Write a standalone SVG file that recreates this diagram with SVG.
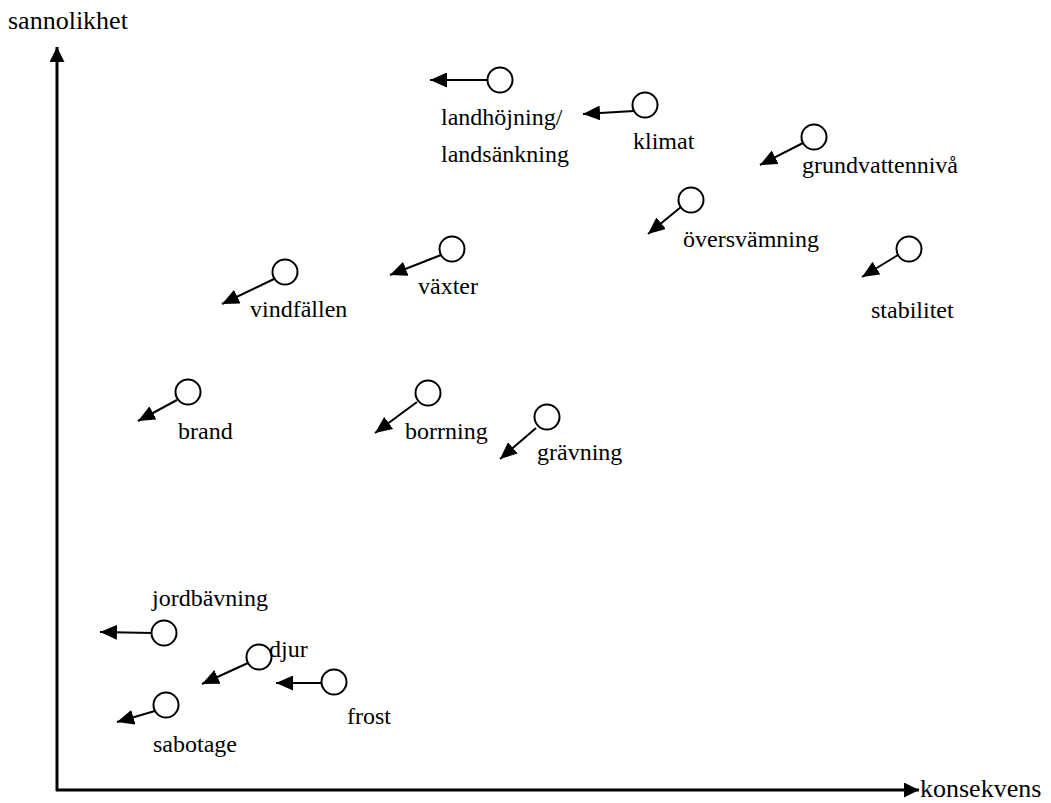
<svg xmlns="http://www.w3.org/2000/svg" width="1051" height="803" viewBox="0 0 1051 803">
<style>
text{font-family:"Liberation Serif","Times New Roman",Tinos,"DejaVu Serif",serif;font-size:24px;fill:#000}
.ttl{font-size:26px}
.c{fill:#fff;stroke:#000;stroke-width:2}
.a{stroke:#000;stroke-width:2;fill:none;marker-end:url(#ah)}
.ax{stroke:#000;stroke-width:3;fill:none;marker-end:url(#axh)}
</style>
<defs>
<marker id="ah" markerUnits="userSpaceOnUse" viewBox="0 0 17 15" refX="17" refY="7.5" markerWidth="17" markerHeight="15" orient="auto"><path d="M0,0 L17,7.5 L0,15 Z" fill="#000"/></marker>
<marker id="axh" markerUnits="userSpaceOnUse" viewBox="0 0 15 15" refX="15" refY="7.5" markerWidth="15" markerHeight="15" orient="auto"><path d="M0,0 L15,7.5 L0,15 Z" fill="#000"/></marker>
</defs>
<rect width="1051" height="803" fill="#fff"/>
<g id="axes">
<path class="ax" d="M57,791 L57,47"/>
<path class="ax" d="M56,790 L919,790"/>
<text class="ttl" x="8" y="29">sannolikhet</text>
<text class="ttl" x="920" y="797">konsekvens</text>
</g>
<g id="connectors">
<path class="a" d="M488,80 L430,80"/>
<path class="a" d="M634,111 L583,114"/>
<path class="a" d="M803,143 L760,165"/>
<path class="a" d="M681,207 L648,234"/>
<path class="a" d="M898,255 L862,277"/>
<path class="a" d="M441,255 L390,275"/>
<path class="a" d="M274,279 L222,304"/>
<path class="a" d="M177,400 L138,421"/>
<path class="a" d="M417,402 L375,433"/>
<path class="a" d="M536,428 L500,459"/>
<path class="a" d="M152,633 L100,632"/>
<path class="a" d="M248,663 L202,684"/>
<path class="a" d="M322,683 L276,683"/>
<path class="a" d="M155,711 L117,722"/>
</g>
<g id="landhojning"><circle class="c" cx="500" cy="80" r="12.5"/><text x="441" y="125">landhöjning/</text><text x="441" y="162">landsänkning</text></g>
<g id="klimat"><circle class="c" cx="645" cy="105" r="12.5"/><text x="633" y="149">klimat</text></g>
<g id="grundvattenniva"><circle class="c" cx="814" cy="137" r="12.5"/><text x="802" y="173">grundvattennivå</text></g>
<g id="oversvamning"><circle class="c" cx="691" cy="200" r="12.5"/><text x="683" y="247">översvämning</text></g>
<g id="stabilitet"><circle class="c" cx="909" cy="249" r="12.5"/><text x="871" y="318">stabilitet</text></g>
<g id="vaxter"><circle class="c" cx="452" cy="249" r="12.5"/><text x="418" y="294">växter</text></g>
<g id="vindfallen"><circle class="c" cx="285" cy="272" r="12.5"/><text x="250" y="317">vindfällen</text></g>
<g id="brand"><circle class="c" cx="188" cy="392" r="12.5"/><text x="178" y="439">brand</text></g>
<g id="borrning"><circle class="c" cx="428" cy="393" r="12.5"/><text x="405" y="439">borrning</text></g>
<g id="gravning"><circle class="c" cx="547" cy="417" r="12.5"/><text x="537" y="460">grävning</text></g>
<g id="jordbavning"><circle class="c" cx="164" cy="633" r="12.5"/><text x="152" y="606">jordbävning</text></g>
<g id="djur"><circle class="c" cx="259" cy="657" r="12.5"/><text x="269" y="657">djur</text></g>
<g id="frost"><circle class="c" cx="334" cy="682" r="12.5"/><text x="347" y="724">frost</text></g>
<g id="sabotage"><circle class="c" cx="166" cy="705" r="12.5"/><text x="153" y="752">sabotage</text></g>
</svg>
